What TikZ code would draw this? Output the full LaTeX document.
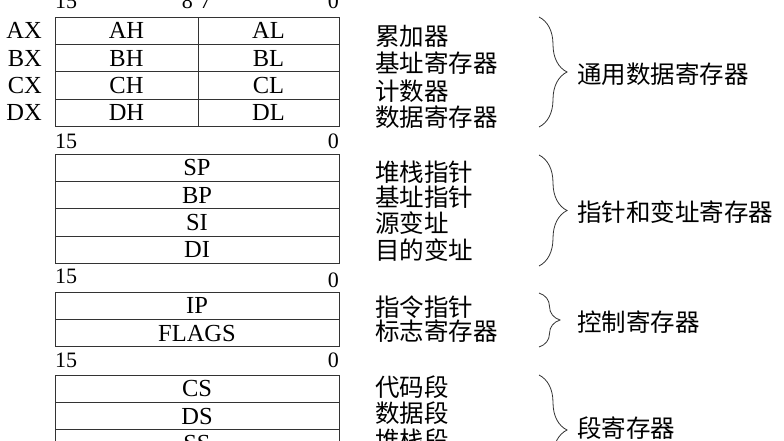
\documentclass[tikz,border=0pt]{standalone}
\usepackage{fontspec}
\setmainfont{Liberation Serif}
\newfontfamily\cjk{Noto Sans CJK SC}
\usetikzlibrary{positioning, decorations.pathreplacing}

\begin{document}
\begin{tikzpicture}[x=1pt, y=-1pt,
    reg/.style={draw=black!80, line width=0.8pt, minimum height=27.4pt, inner sep=0pt, outer sep=0pt, font=\fontsize{24.5}{24.5}\selectfont},
    full/.style={reg, minimum width=284pt},
    bits/.style={inner sep=0pt, font=\fontsize{22}{22}\selectfont},
    regname/.style={inner sep=0pt, font=\fontsize{24.5}{24.5}\selectfont},
    cn/.style={inner sep=0pt, anchor=west, font=\cjk\fontsize{24.5}{24.5}\selectfont},
    grp/.style={draw=black!80, line width=0.8pt, decorate, decoration={brace, amplitude=#1}},
    grp/.default=28pt]
  \clip (0,0) rectangle (784,440);

  % General purpose registers:
  \node[reg, minimum width=143pt, anchor=north west] (ah) at (55,17) {AH};
  \node[reg, minimum width=141pt, right=0pt of ah] (al) {AL};
  \node[reg, minimum width=143pt, below=0pt of ah] (bh) {BH};
  \node[reg, minimum width=141pt, right=0pt of bh] (bl) {BL};
  \node[reg, minimum width=143pt, below=0pt of bh] (ch) {CH};
  \node[reg, minimum width=141pt, right=0pt of ch] (cl) {CL};
  \node[reg, minimum width=143pt, below=0pt of ch] (dh) {DH};
  \node[reg, minimum width=141pt, right=0pt of dh] (dl) {DL};

  \node[regname, left=13pt of ah] (ax) {AX};
  \node[regname, left=13pt of bh] (bx) {BX};
  \node[regname, left=13pt of ch] (cx) {CX};
  \node[regname, left=13pt of dh] (dx) {DX};

  % Bit numbers:
  \node[bits, anchor=west] (hi1) at (55,1) {15};
  \node[bits, anchor=east] (mid8) at (193,1) {8};
  \node[bits, anchor=west] (mid7) at (200,1) {7};
  \node[bits, anchor=east] (lo1) at (339,1) {0};
  \node[bits, anchor=west] (hi2) at (55,141) {15};
  \node[bits, anchor=east] (lo2) at (339,141) {0};
  \node[bits, anchor=west] (hi3) at (55,276) {15};
  \node[bits, anchor=east] (lo3) at (339,280) {0};
  \node[bits, anchor=west] (hi4) at (55,360) {15};
  \node[bits, anchor=east] (lo4) at (339,360) {0};

  % Pointer and index registers:
  \node[full, anchor=north west] (sp) at (55,154) {SP};
  \node[full, below=0pt of sp] (bp) {BP};
  \node[full, below=0pt of bp] (si) {SI};
  \node[full, below=0pt of si] (di) {DI};

  % Control registers:
  \node[full, anchor=north west] (ip) at (55,292) {IP};
  \node[full, below=0pt of ip] (flags) {FLAGS};

  % Segment registers:
  \node[full, anchor=north west] (cs) at (55,375) {CS};
  \node[full, below=0pt of cs] (ds) {DS};
  \node[full, below=0pt of ds] (ss) {SS};

  % Descriptions:
  \node[cn] (acc) at (375,36) {累加器};
  \node[cn] (base) at (375,63) {基址寄存器};
  \node[cn] (count) at (375,91) {计数器};
  \node[cn] (data) at (375,117) {数据寄存器};
  \node[cn] (stkp) at (375,172) {堆栈指针};
  \node[cn] (basep) at (375,197) {基址指针};
  \node[cn] (srci) at (375,223) {源变址};
  \node[cn] (dsti) at (375,250) {目的变址};
  \node[cn] (instp) at (375,307) {指令指针};
  \node[cn] (flagr) at (375,331) {标志寄存器};
  \node[cn] (codes) at (375,387) {代码段};
  \node[cn] (datas) at (375,413) {数据段};
  \node[cn] (stacks) at (375,440) {堆栈段};

  % Groups:
  \draw[grp] (539,17) -- (539,127);
  \draw[grp] (539,155) -- (539,266);
  \draw[grp=21pt] (539,293) -- (539,347);
  \draw[grp] (539,375) -- (539,485);
  \node[cn] (gen) at (577,74) {通用数据寄存器};
  \node[cn] (ptr) at (577,212) {指针和变址寄存器};
  \node[cn] (ctl) at (577,322) {控制寄存器};
  \node[cn] (seg) at (577,428) {段寄存器};
\end{tikzpicture}
\end{document}
